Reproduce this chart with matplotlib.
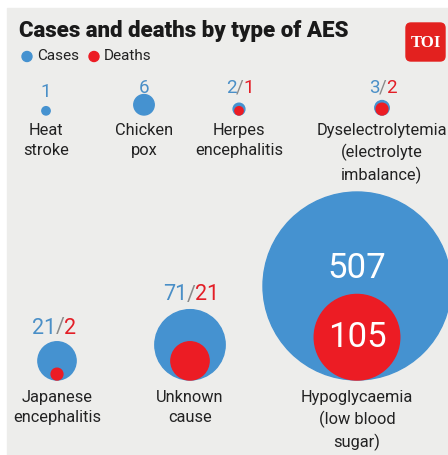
import matplotlib.pyplot as plt
from matplotlib.patches import Circle, Rectangle, FancyBboxPatch
import numpy as np

# data
labels = ['Heat\nstroke', 'Chicken\npox', 'Herpes\nencephalitis',
          'Dyselectrolytemia\n(electrolyte\nimbalance)',
          'Japanese\nencephalitis', 'Unknown\ncause',
          'Hypoglycaemia\n(low blood\nsugar)']
cases = [1, 6, 2, 3, 21, 71, 507]
deaths = [0, 0, 1, 2, 2, 21, 105]

# layout (pixels)
xpos = [46, 144, 239, 382, 57, 190, 357]
base = [115, 115, 115, 115, 380, 380, 380]
num_y = [92, 88, 88, 88, 328, 295, 0]
lab_y = [131, 131, 131, 131, 398, 398, 398]

BLUE = '#4592d0'
RED = '#ec1c24'
BLUE_T = '#4a8fc7'
RED_T = '#e31e26'
BG = '#ededeb'
FONT = ['Liberation Sans Narrow', 'Roboto', 'DejaVu Sans']

k = 94 / np.sqrt(max(cases))  # radius per sqrt(value)

fig = plt.figure(figsize=(4.48, 4.55), dpi=100)
ax = fig.add_axes([0, 0, 1, 1])
ax.set_xlim(0, 448)
ax.set_ylim(455, 0)
ax.axis('off')
fig.patch.set_facecolor('white')
ax.add_patch(Rectangle((7, 8), 441, 447, color=BG, zorder=0))

# title + legend
ax.text(19, 31, 'Cases and deaths by type of AES', fontsize=16, fontweight='black',
        family=FONT, color='#1a1a1a', va='center', ha='left')
ax.add_patch(Circle((27, 56.5), 5, color=BLUE))
ax.text(37, 56.5, 'Cases', fontsize=11, family=FONT, color='#222', va='center')
ax.add_patch(Circle((94, 56.5), 5, color=RED))
ax.text(104, 56.5, 'Deaths', fontsize=11, family=FONT, color='#222', va='center')

# TOI logo
ax.add_patch(FancyBboxPatch((406, 23), 39, 38, boxstyle='round,pad=0,rounding_size=5',
                            color='#e3211f', zorder=2))
ax.text(425.5, 43, 'TOI', fontsize=12, fontweight='bold', family=['Liberation Serif', 'DejaVu Serif'],
        color='white', ha='center', va='center', zorder=3)

for i in range(len(cases)):
    x, b = xpos[i], base[i]
    rc = k * np.sqrt(cases[i])
    ax.add_patch(Circle((x, b - rc), rc, color=BLUE, zorder=2))
    if deaths[i] > 0:
        rd = k * np.sqrt(deaths[i])
        ax.add_patch(Circle((x, b - rd), rd, color=RED, zorder=3))

    big = i >= 4
    fs = 15.5 if big else 13.5
    if cases[i] > 300:
        ax.text(x, b - 2 * rc + 77, str(cases[i]), fontsize=25, family=FONT,
                color='white', ha='center', va='center', zorder=4)
        ax.text(x, b - rd, str(deaths[i]), fontsize=25, family=FONT,
                color='white', ha='center', va='center', zorder=4)
    elif deaths[i] == 0:
        ax.text(x, num_y[i], str(cases[i]), fontsize=fs, family=FONT,
                color=BLUE_T, ha='center', va='center')
    else:
        sx = x + (3 if i == 4 else 1)
        gap = 3.6 if big else 3.2
        ax.text(sx, num_y[i], '/', fontsize=fs, family=FONT, color='#8a8a8a',
                ha='center', va='center')
        ax.text(sx - gap, num_y[i], str(cases[i]), fontsize=fs, family=FONT,
                color=BLUE_T, ha='right', va='center')
        ax.text(sx + gap, num_y[i], str(deaths[i]), fontsize=fs, family=FONT,
                color=RED_T, ha='left', va='center')

    ax.text(x, lab_y[i] - 8, labels[i], fontsize=11.8, family=FONT, color='#222',
            ha='center', va='top', linespacing=1.42)

fig.savefig('out.png', dpi=100)
